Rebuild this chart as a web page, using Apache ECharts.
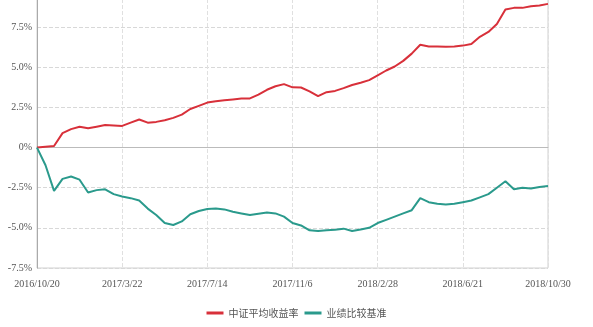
<!DOCTYPE html>
<html>
<head>
<meta charset="utf-8">
<script src="https://cdn.jsdelivr.net/npm/echarts@6/dist/echarts.min.js"></script>
<style>html,body{margin:0;padding:0;background:#fff;overflow:hidden;}#c{position:absolute;left:0;top:-18px;width:593px;height:345px;}</style>
</head>
<body>
<div id="c"></div>
<script>
// Tick labels on the x axis (every 10th sample)
var xTickLabels = ['2016/10/20', '2017/3/22', '2017/7/14', '2017/11/6', '2018/2/28', '2018/6/21', '2018/10/30'];
var seriesNames = ['中证平均收益率', '业绩比较基准'];
// Fund cumulative return (%), 61 evenly spaced samples
var fundValues = [0, 0.05, 0.1, 0.9, 1.15, 1.3, 1.2, 1.3, 1.4, 1.38,
  1.35, 1.55, 1.75, 1.55, 1.6, 1.7, 1.85, 2.05, 2.4, 2.6,
  2.8, 2.88, 2.95, 3.0, 3.05, 3.06, 3.3, 3.6, 3.82, 3.95,
  3.75, 3.74, 3.5, 3.2, 3.45, 3.53, 3.7, 3.9, 4.04, 4.2,
  4.5, 4.8, 5.05, 5.4, 5.85, 6.4, 6.3, 6.3, 6.28, 6.3,
  6.35, 6.45, 6.9, 7.2, 7.7, 8.6, 8.7, 8.7, 8.8, 8.85, 8.95];
// Benchmark cumulative return (%)
var benchValues = [0, -1.1, -2.7, -1.95, -1.8, -2.0, -2.8, -2.65, -2.6, -2.9,
  -3.05, -3.15, -3.3, -3.8, -4.2, -4.7, -4.82, -4.6, -4.15, -3.95,
  -3.82, -3.8, -3.85, -4.0, -4.1, -4.2, -4.12, -4.05, -4.1, -4.3,
  -4.7, -4.85, -5.15, -5.2, -5.15, -5.12, -5.05, -5.2, -5.1, -5.0,
  -4.7, -4.5, -4.3, -4.1, -3.9, -3.15, -3.4, -3.5, -3.55, -3.5,
  -3.4, -3.3, -3.1, -2.9, -2.5, -2.1, -2.6, -2.5, -2.55, -2.45, -2.4];

function pairs(arr) { return arr.map(function (v, i) { return [i, v]; }); }

var chart = echarts.init(document.getElementById('c'), null, { renderer: 'canvas' });
var labelFont = { color: '#555', fontSize: 10, fontFamily: 'Liberation Serif' };
chart.setOption({
  animation: false,
  grid: { left: 37, right: 45, top: 0, bottom: 59, show: true, borderColor: '#d0d0d0', borderWidth: 1 },
  legend: {
    bottom: 4, left: 'center', itemWidth: 17, itemHeight: 3, itemGap: 6, icon: 'rect',
    textStyle: { color: '#555', fontSize: 10, fontFamily: 'Noto Sans CJK SC' },
    data: seriesNames
  },
  xAxis: {
    type: 'value', min: 0, max: 60, interval: 10,
    axisLine: { show: true, lineStyle: { color: '#bbb' } },
    axisTick: { show: false },
    axisLabel: Object.assign({ margin: 11, formatter: function (v) { return xTickLabels[Math.round(v / 10)] || ''; } }, labelFont),
    splitLine: { show: true, interval: function (i) { return i % 2 === 1; }, lineStyle: { type: 'dashed', color: '#e0e0e0' } }
  },
  yAxis: {
    type: 'value', min: -7.5, max: 10, interval: 2.5,
    axisLine: { show: true, lineStyle: { color: '#aaa' } },
    axisTick: { show: false },
    axisLabel: Object.assign({ margin: 5, formatter: function (v) { return v === 0 ? '0%' : v.toFixed(1) + '%'; } }, labelFont),
    splitLine: { show: true, lineStyle: { type: 'dashed', color: '#d8d8d8' } }
  },
  series: [
    { name: seriesNames[0], type: 'line', data: pairs(fundValues), showSymbol: false, symbol: 'none',
      lineStyle: { color: '#d8303a', width: 2 }, itemStyle: { color: '#d8303a' } },
    { name: seriesNames[1], type: 'line', data: pairs(benchValues), showSymbol: false, symbol: 'none',
      lineStyle: { color: '#2a9a8c', width: 2 }, itemStyle: { color: '#2a9a8c' } }
  ]
});
</script>
</body>
</html>
